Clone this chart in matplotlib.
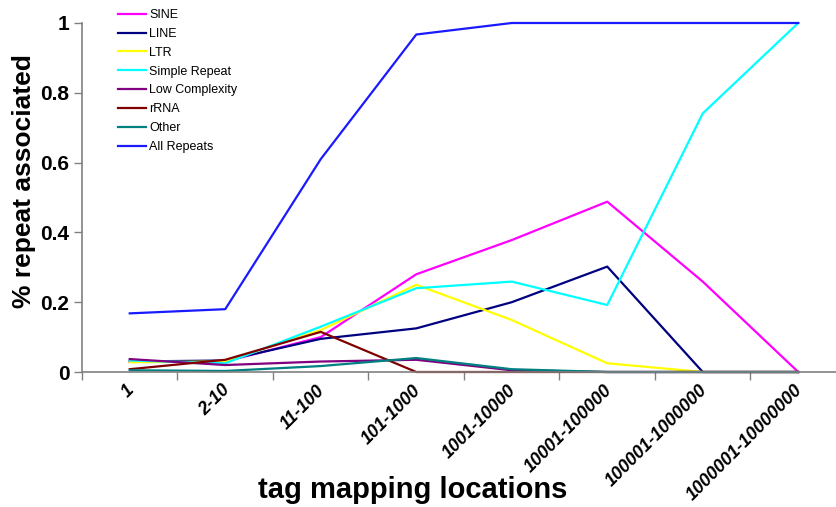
import matplotlib.pyplot as plt

plt.rcParams['font.family'] = ['Liberation Sans', 'DejaVu Sans']

# categories on the x axis
categories = ['1', '2-10', '11-100', '101-1000', '1001-10000', '10001-100000',
              '100001-1000000', '1000001-10000000']

# fraction of tags that are repeat associated, per repeat class
sine = [0.030, 0.030, 0.100, 0.280, 0.378, 0.488, 0.259, 0.0]
line = [0.030, 0.033, 0.095, 0.125, 0.200, 0.302, 0.0, 0.0]
ltr = [0.028, 0.030, 0.120, 0.250, 0.149, 0.025, 0.0, 0.0]
simple_repeat = [0.033, 0.025, 0.130, 0.240, 0.259, 0.192, 0.741, 1.0]
low_complexity = [0.037, 0.020, 0.030, 0.035, 0.005, 0.0, 0.0, 0.0]
rrna = [0.008, 0.035, 0.115, 0.0, 0.0, 0.0, 0.0, 0.0]
other = [0.005, 0.003, 0.017, 0.040, 0.008, 0.0, 0.0, 0.0]
all_repeats = [0.168, 0.180, 0.610, 0.967, 1.0, 1.0, 1.0, 1.0]

series = [
    ('SINE', sine, '#ff00ff'),
    ('LINE', line, '#000080'),
    ('LTR', ltr, '#ffff00'),
    ('Simple Repeat', simple_repeat, '#00ffff'),
    ('Low Complexity', low_complexity, '#800080'),
    ('rRNA', rrna, '#800000'),
    ('Other', other, '#008080'),
    ('All Repeats', all_repeats, '#1a1aff'),
]

W, H = 837, 507
fig = plt.figure(figsize=(W / 100, H / 100), dpi=100)
ax = fig.add_axes([82 / W, 1 - 372 / H, (846 - 82) / W, (372 - 23) / H])

x = list(range(len(categories)))
for name, vals, col in series:
    ax.plot(x, vals, color=col, lw=1.6, label=name, clip_on=False)

ax.set_xlim(-0.5, len(categories) - 0.5)
ax.set_ylim(0, 1)

for s in ['top', 'right']:
    ax.spines[s].set_visible(False)
for s in ['left', 'bottom']:
    ax.spines[s].set_color('#808080')
    ax.spines[s].set_linewidth(1.2)

ax.set_yticks([0, 0.2, 0.4, 0.6, 0.8, 1.0])
ax.set_yticklabels(['0', '0.2', '0.4', '0.6', '0.8', '1'],
                   fontsize=15, fontweight='bold')
ax.tick_params(axis='y', length=6, width=1, color='#808080', pad=3)

# ticks between categories, labels at categories
ax.set_xticks([i - 0.5 for i in x] + [len(categories) - 0.5])
ax.set_xticklabels([])
ax.tick_params(axis='x', length=6, width=1, color='#808080')
for i, lab in zip(x, categories):
    ax.annotate(lab, xy=(i, 0), xycoords='data', xytext=(-3, -7),
                textcoords='offset points', rotation=45, ha='right', va='top',
                rotation_mode='anchor', fontsize=13, fontweight='bold',
                fontstyle='italic', annotation_clip=False)

fig.text(24 / W, 1 - 181 / H, '% repeat associated', rotation=90,
         ha='center', va='center', fontsize=19, fontweight='bold')
fig.text(413 / W, 1 - 490 / H, 'tag mapping locations',
         ha='center', va='center', fontsize=21, fontweight='bold')

ax.legend(loc='upper left', bbox_to_anchor=(118 / W, 1 - 9 / H),
          bbox_transform=fig.transFigure, frameon=False, fontsize=9,
          handlelength=2.2, handletextpad=0.3, labelspacing=0.55,
          borderaxespad=0, borderpad=0)

fig.savefig('out.png', dpi=100)
